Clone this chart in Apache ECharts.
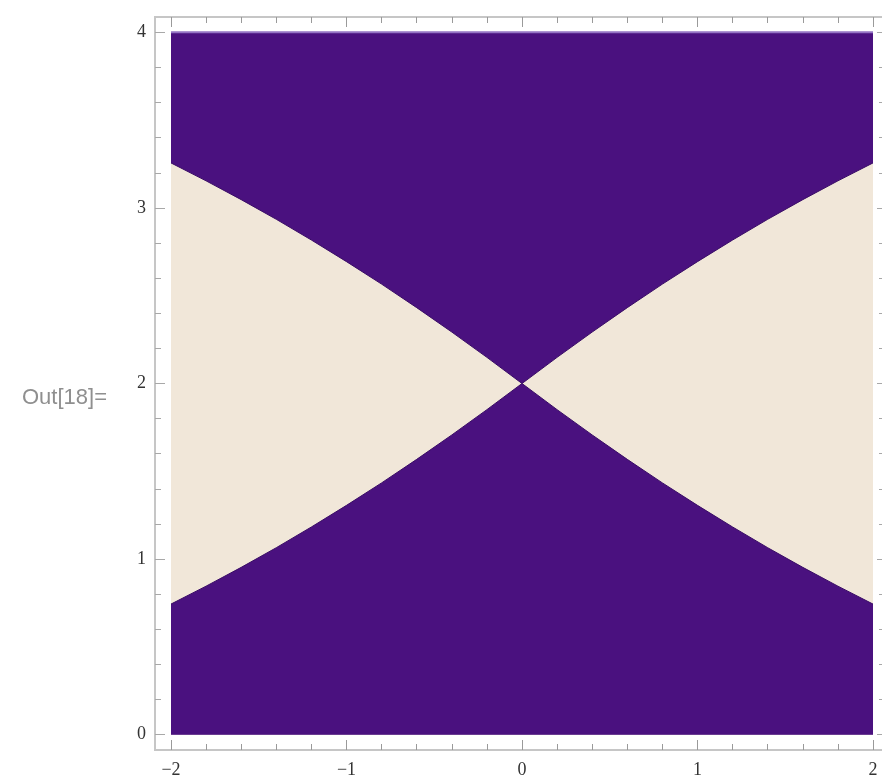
<!DOCTYPE html>
<html>
<head>
<meta charset="utf-8">
<script src="https://cdn.jsdelivr.net/npm/echarts@6/dist/echarts.min.js"></script>
<style>
  html, body { margin: 0; padding: 0; background: #fff; }
</style>
</head>
<body>
<div id="main" style="width: 882px;height:784px;"></div>

<script type="text/javascript">
  // boundary of the light region
  var xs    = [-2, -1.8, -1.6, -1.4, -1.2, -1, -0.8, -0.6, -0.4, -0.2, 0, 0.2, 0.4, 0.6, 0.8, 1, 1.2, 1.4, 1.6, 1.8, 2];
  var upper = [3.256, 3.154, 3.047, 2.935, 2.817, 2.694, 2.566, 2.432, 2.293, 2.149, 2.000,
               2.149, 2.293, 2.432, 2.566, 2.694, 2.817, 2.935, 3.047, 3.154, 3.256];
  var lower = [0.744, 0.846, 0.953, 1.065, 1.183, 1.306, 1.434, 1.568, 1.707, 1.851, 2.000,
               1.851, 1.707, 1.568, 1.434, 1.306, 1.183, 1.065, 0.953, 0.846, 0.744];
  var plotTop = [4, 4, 4, 4, 4, 4, 4, 4, 4, 4, 4, 4, 4, 4, 4, 4, 4, 4, 4, 4, 4];

  // frame ticks
  var xMajor = [-2, -1, 0, 1, 2];
  var xMinor = [-1.8, -1.6, -1.4, -1.2, -0.8, -0.6, -0.4, -0.2, 0.2, 0.4, 0.6, 0.8, 1.2, 1.4, 1.6, 1.8];
  var yMajor = [0, 1, 2, 3, 4];
  var yMinor = [0.2, 0.4, 0.6, 0.8, 1.2, 1.4, 1.6, 1.8, 2.2, 2.4, 2.6, 2.8, 3.2, 3.4, 3.6, 3.8];

  var purple = '#4a117f';
  var beige = '#f1e7d9';
  var frame = '#c6c6c6';

  function pairs(vals) {
    return xs.map(function (x, i) { return [x, vals[i]]; });
  }

  function minus(v) {
    return v < 0 ? '\u2212' + Math.abs(v) : String(v);
  }

  // frame is padded a little beyond the plot range (right side runs off the picture)
  var xMin = -2.0912, xMax = 2.0513;
  var yMin = -0.087, yMax = 4.087;

  function xAx(pos, ticks, len, labels) {
    return {
      type: 'value', position: pos, min: xMin, max: xMax,
      axisLine: { show: true, onZero: false, lineStyle: { color: frame, width: 2 } },
      axisTick: { show: true, inside: true, length: len, customValues: ticks, lineStyle: { color: '#9a9a9a' } },
      axisLabel: labels ? {
        show: true, customValues: ticks, margin: 11, formatter: minus,
        fontFamily: 'Liberation Serif', fontSize: 18, color: '#333'
      } : { show: false },
      splitLine: { show: false }
    };
  }

  function yAx(pos, ticks, len, labels) {
    return {
      type: 'value', position: pos, min: yMin, max: yMax,
      axisLine: { show: pos === 'left', onZero: false, lineStyle: { color: frame, width: 2 } },
      axisTick: { show: true, inside: true, length: len, customValues: ticks, lineStyle: { color: '#a8a8a8' } },
      axisLabel: labels ? {
        show: true, customValues: ticks, margin: 9, formatter: minus,
        fontFamily: 'Liberation Serif', fontSize: 18, color: '#333'
      } : { show: false },
      splitLine: { show: false }
    };
  }

  var option = {
    animation: false,
    title: {
      text: 'Out[18]=',
      left: 17, top: 382,
      textStyle: { fontFamily: 'Liberation Sans', fontSize: 22, fontWeight: 'normal', color: '#8f8f8f' }
    },
    grid: { left: 155, right: 0, top: 17, bottom: 34 },
    xAxis: [
      xAx('bottom', xMajor, 10, true),
      xAx('bottom', xMinor, 6, false),
      xAx('top', xMajor, 10, false),
      xAx('top', xMinor, 6, false)
    ],
    yAxis: [
      yAx('left', yMajor, 10, true),
      yAx('left', yMinor, 6, false),
      yAx('right', yMajor, 5, false),
      yAx('right', yMinor, 3, false)
    ],
    series: [
      {
        // whole plot range, dark
        type: 'line', data: pairs(plotTop), symbol: 'none', silent: true,
        lineStyle: { color: '#9474c4', width: 2 },
        areaStyle: { color: purple, opacity: 1 }
      },
      {
        // light region up to the upper boundary
        type: 'line', data: pairs(upper), symbol: 'none', silent: true,
        lineStyle: { color: '#3a0d66', width: 1 },
        areaStyle: { color: beige, opacity: 1 }
      },
      {
        // dark again below the lower boundary
        type: 'line', data: pairs(lower), symbol: 'none', silent: true,
        lineStyle: { color: '#3a0d66', width: 1 },
        areaStyle: { color: purple, opacity: 1 }
      }
    ]
  };

  var myChart = echarts.init(document.getElementById('main'));
  myChart.setOption(option);
</script>
</body>
</html>
